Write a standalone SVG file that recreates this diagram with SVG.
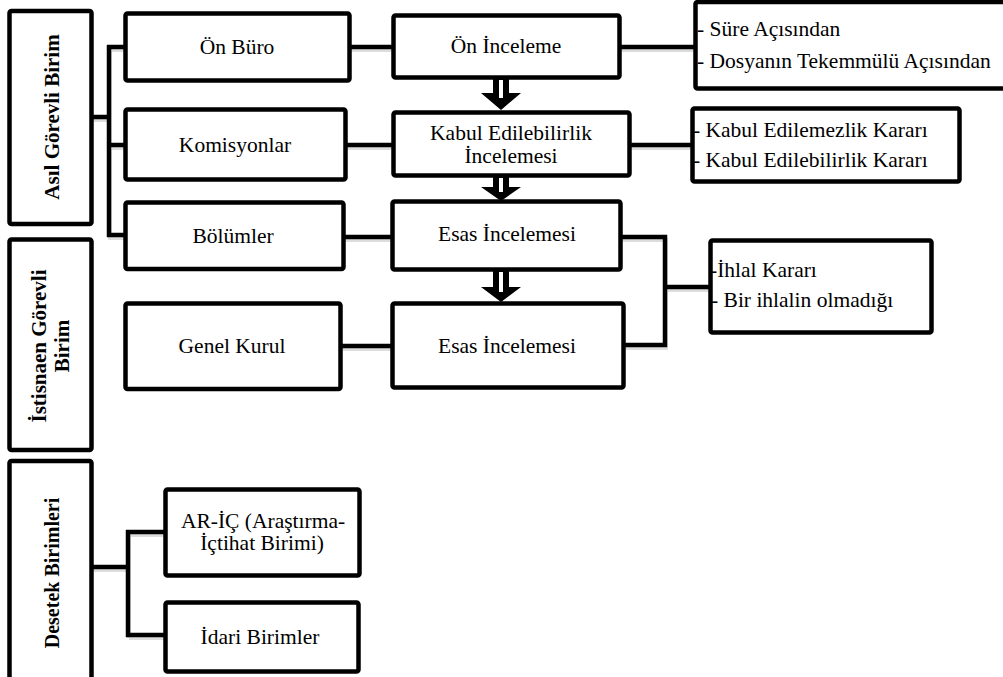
<svg xmlns="http://www.w3.org/2000/svg" width="1003" height="677" viewBox="0 0 1003 677" font-family="'Liberation Serif', Tinos, 'Times New Roman', 'DejaVu Serif', serif">
<style>
.box{fill:#fff;stroke:#000;stroke-width:4.5}
.t{font-family:'Liberation Serif', Tinos, 'Times New Roman', 'DejaVu Serif', serif;font-size:21.5px;fill:#000}
.c{text-anchor:middle}
.b{font-weight:bold;font-size:21px}
.ln{fill:none;stroke:#000;stroke-width:4.5;stroke-linejoin:miter;stroke-linecap:butt}
.sh{fill:none;stroke:#bbb;stroke-width:4;opacity:0.5}
</style>
<rect width="1003" height="677" fill="#fff"/>
<g id="connectors">
<g class="sh" transform="translate(1,3)">
<path d="M91.5,117 H109 M109,47 V237 M109,47 H125 M109,145 H125 M109,235 H125"/>
<path d="M350,47 H393 M345,145 H393 M343,237 H392 M340,346 H392"/>
<path d="M619,47 H695 M629,145 H692"/>
<path d="M620,237 H665 V345 H623 M665,287 H710"/>
<path d="M91,567 H128 M128,532 V635 M128,532 H165 M128,635 H165"/>
</g>
<path class="ln" d="M91.5,117 H109 M109,45 V237 M107,47 H125.5 M109,145 H125.5 M107,235 H125.5"/>
<path class="ln" d="M349.5,47 H393.5 M345.5,145 H393.5 M343.5,237 H392.5 M340.5,346 H392.5"/>
<path class="ln" d="M619.5,47 H695.5 M629.5,145 H692.5"/>
<path class="ln" d="M620.5,237 H665 V345 H623.5 M665,287 H710.5"/>
<path class="ln" d="M91,567 H128 M128,530 V637 M126,532 H165.5 M126,635 H165.5"/>
</g>
<g id="n-asil">
<rect class="box" x="9.5" y="11" width="82" height="213" rx="2"/>
<text class="t b c" transform="translate(59,117) rotate(-90)">Asıl Görevli Birim</text>
</g>
<g id="n-istisnaen">
<rect class="box" x="9.5" y="239.5" width="82" height="210.5" rx="2"/>
<text class="t b c" transform="translate(46,346) rotate(-90)">İstisnaen Görevli</text>
<text class="t b c" transform="translate(69,346) rotate(-90)">Birim</text>
</g>
<g id="n-desetek">
<rect class="box" x="9.5" y="461" width="82" height="230" rx="2"/>
<text class="t b c" style="font-size:20px" transform="translate(59,573) rotate(-90)">Desetek Birimleri</text>
</g>
<g id="n-onburo">
<rect class="box" x="125.5" y="13.5" width="224" height="67" rx="2"/>
<text class="t c" x="237" y="54">Ön Büro</text>
</g>
<g id="n-komisyonlar">
<rect class="box" x="125.5" y="109.5" width="220" height="70" rx="2"/>
<text class="t c" x="235" y="152">Komisyonlar</text>
</g>
<g id="n-bolumler">
<rect class="box" x="125.5" y="202.5" width="218" height="66.5" rx="2"/>
<text class="t c" x="233" y="243">Bölümler</text>
</g>
<g id="n-genelkurul">
<rect class="box" x="125.5" y="303.5" width="215" height="85.5" rx="2"/>
<text class="t c" x="232" y="353">Genel Kurul</text>
</g>
<g id="n-oninceleme">
<rect class="box" x="393.5" y="15.5" width="226" height="62" rx="2"/>
<text class="t c" x="506" y="53">Ön İnceleme</text>
</g>
<g id="n-kabul">
<rect class="box" x="393.5" y="112.5" width="236" height="63" rx="2"/>
<text class="t c" x="511" y="140">Kabul Edilebilirlik</text>
<text class="t c" x="511" y="163">İncelemesi</text>
</g>
<g id="n-esas1">
<rect class="box" x="392.5" y="201.5" width="228" height="68" rx="2"/>
<text class="t c" x="507" y="241">Esas İncelemesi</text>
</g>
<g id="n-esas2">
<rect class="box" x="392.5" y="303.5" width="231" height="84" rx="2"/>
<text class="t c" x="507" y="353">Esas İncelemesi</text>
</g>
<g id="n-sure">
<rect class="box" x="695.5" y="2" width="320" height="86.5" rx="2"/>
<text class="t" x="697" y="36">- Süre Açısından</text>
<text class="t" x="697" y="68">- Dosyanın Tekemmülü Açısından</text>
</g>
<g id="n-karar">
<rect class="box" x="692.5" y="108.5" width="267" height="73" rx="2"/>
<text class="t" x="693" y="137">- Kabul Edilemezlik Kararı</text>
<text class="t" x="693" y="167">- Kabul Edilebilirlik Kararı</text>
</g>
<g id="n-ihlal">
<rect class="box" x="710.5" y="240.5" width="221" height="92" rx="2"/>
<text class="t" x="710" y="277">-İhlal Kararı</text>
<text class="t" x="711" y="307">- Bir ihlalin olmadığı</text>
</g>
<g id="n-ar">
<rect class="box" x="165.5" y="489.5" width="194" height="86" rx="2"/>
<text class="t c" x="263" y="528">AR-İÇ (Araştırma-</text>
<text class="t c" x="262" y="550">İçtihat Birimi)</text>
</g>
<g id="n-idari">
<rect class="box" x="165.5" y="602.5" width="193" height="69" rx="2"/>
<text class="t c" x="260" y="644">İdari Birimler</text>
</g>
<g id="arrows">
<path d="M493,78 H509 V93 H521 L501,110 L481,93 H493 Z" fill="#000"/>
<rect x="499" y="80" width="4" height="18" fill="#fff"/>
<path d="M493,176 H509 V187 H521 L501,201 L481,187 H493 Z" fill="#000"/>
<rect x="499" y="178" width="4" height="14" fill="#fff"/>
<path d="M493,270 H509 V287 H521 L501,302 L481,287 H493 Z" fill="#000"/>
<rect x="499" y="272" width="4" height="20" fill="#fff"/>
</g>
</svg>
